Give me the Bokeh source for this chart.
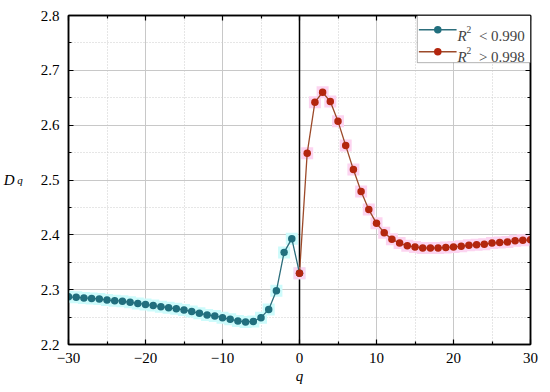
from bokeh.plotting import figure
from bokeh.models import Range1d, Span, Label, BoxAnnotation, FixedTicker, LinearAxis
from bokeh.embed import file_html
from bokeh.resources import INLINE

# ---- data ----
q_neg = list(range(-30, 1))
dq_neg = [2.287, 2.286, 2.285, 2.284, 2.283, 2.281, 2.280, 2.279, 2.277, 2.275,
          2.273, 2.271, 2.269, 2.267, 2.265, 2.263, 2.260, 2.257, 2.254, 2.252,
          2.249, 2.246, 2.243, 2.241, 2.242, 2.249, 2.264, 2.298, 2.368, 2.393,
          2.330]
q_pos = list(range(0, 31))
dq_pos = [2.330, 2.549, 2.642, 2.660, 2.643, 2.607, 2.563, 2.519, 2.479, 2.446,
          2.421, 2.404, 2.392, 2.385, 2.380, 2.378, 2.376, 2.376, 2.376, 2.377,
          2.378, 2.379, 2.381, 2.382, 2.383, 2.385, 2.386, 2.387, 2.389, 2.390,
          2.391]

x_ticks = [-30, -20, -10, 0, 10, 20, 30]
x_minor = [-25, -15, -5, 5, 15, 25]
x_tick_labels = ["\u221230", "\u221220", "\u221210", "0", "10", "20", "30"]
y_ticks = [2.2, 2.3, 2.4, 2.5, 2.6, 2.7, 2.8]
y_minor = [2.25, 2.35, 2.45, 2.55, 2.65, 2.75]
y_tick_labels = ["2.2", "2.3", "2.4", "2.5", "2.6", "2.7", "2.8"]
legend_labels = ["< 0.990", "> 0.998"]

FONT = "Liberation Serif"
BLUE_LINE = "#2d6e7c"
BLUE_MK = "#216f7e"
RED_LINE = "#9c4a2a"
RED_MK = "#b3260e"

p = figure(width=542, height=392, output_backend="svg", toolbar_location=None,
           x_range=Range1d(-30, 30), y_range=Range1d(2.2, 2.8),
           min_border_left=68, min_border_right=12, min_border_top=15, min_border_bottom=48)
p.background_fill_color = "white"
p.outline_line_color = "black"
p.outline_line_width = 1.5

xt = FixedTicker(ticks=x_ticks, minor_ticks=x_minor)
yt = FixedTicker(ticks=y_ticks, minor_ticks=y_minor)
p.xaxis.ticker = xt
p.yaxis.ticker = yt
p.xaxis.major_label_overrides = {v: s for v, s in zip(x_ticks, x_tick_labels)}
p.yaxis.major_label_overrides = {v: s for v, s in zip(y_ticks, y_tick_labels)}

for ax in [p.xaxis[0], p.yaxis[0]]:
    ax.axis_line_width = 1.5
    ax.major_tick_in = 5
    ax.major_tick_out = 0
    ax.minor_tick_in = 3
    ax.minor_tick_out = 0
    ax.major_tick_line_width = 1.2
    ax.minor_tick_line_width = 1.2
    ax.major_label_text_font = FONT
    ax.major_label_text_font_size = "15px"
    ax.major_label_text_color = "black"
    ax.axis_label_text_font = FONT
    ax.axis_label_text_font_style = "italic"
    ax.axis_label_text_color = "black"
p.yaxis.major_label_standoff = 9
p.xaxis.major_label_standoff = 8

# x axis title
p.xaxis.axis_label = "q"
p.xaxis.axis_label_text_font_size = "15px"
p.xaxis.axis_label_standoff = 2

# y axis title: "q" subscript on the main axis, "D" on an outer axis
p.yaxis.axis_label = "q"
p.yaxis.axis_label_text_font_size = "11px"
p.yaxis.axis_label_orientation = "horizontal"
p.yaxis.axis_label_text_baseline = "top"
p.yaxis.axis_label_standoff = 15

outer = LinearAxis(axis_label="D", axis_label_orientation="horizontal",
                   axis_label_text_font=FONT, axis_label_text_font_style="italic",
                   axis_label_text_font_size="15px", axis_label_text_color="black",
                   axis_label_standoff=0, axis_line_color=None,
                   major_tick_line_color=None, minor_tick_line_color=None,
                   major_label_overrides={v: "" for v in y_ticks},
                   major_label_standoff=0, major_tick_in=0, major_tick_out=0,
                   minor_tick_in=0, minor_tick_out=0, ticker=yt)
p.add_layout(outer, "left")

for loc, tk, ticks in [("above", xt, x_ticks), ("right", yt, y_ticks)]:
    ax = LinearAxis(ticker=tk, major_label_overrides={v: "" for v in ticks},
                    major_label_standoff=0,
                    axis_line_width=1.5, major_tick_in=5, major_tick_out=0,
                    minor_tick_in=3, minor_tick_out=0,
                    major_tick_line_width=1.2, minor_tick_line_width=1.2)
    p.add_layout(ax, loc)

for g in [p.xgrid[0], p.ygrid[0]]:
    g.grid_line_color = "#c8c8c8"
    g.grid_line_width = 1
    g.minor_grid_line_color = "#cccccc"
    g.minor_grid_line_dash = "1 2"

p.xgrid.ticker = xt
p.ygrid.ticker = yt

# halos
p.scatter(q_neg, dq_neg, marker="square", size=12, fill_color="#cdfbfb", line_color=None)
p.scatter(q_pos, dq_pos, marker="square", size=12, fill_color="#fcd4f0", line_color=None)

zero = Span(location=0, dimension="height", line_color="black", line_width=1.5, level="underlay")
p.add_layout(zero)

p.line(q_neg, dq_neg, line_color=BLUE_LINE, line_width=1.3)
p.scatter(q_neg, dq_neg, size=7.5, fill_color=BLUE_MK, line_color=None)
p.line(q_pos, dq_pos, line_color=RED_LINE, line_width=1.3)
p.scatter(q_pos, dq_pos, size=7.5, fill_color=RED_MK, line_color=None)

# legend
box = BoxAnnotation(left=15.3, right=30, bottom=2.714, top=2.8, fill_color="white",
                    fill_alpha=1, line_color="black", line_width=1, level="annotation")
p.add_layout(box)
rows = [(2.774, 2.7635, 2.7745, BLUE_LINE, BLUE_MK),
        (2.734, 2.7252, 2.7355, RED_LINE, RED_MK)]
for (yr, yb, ys, lc, mc), lab in zip(rows, legend_labels):
    r1 = p.line([15.5, 20.4], [yr, yr], line_color=lc, line_width=1.5)
    r1.level = "overlay"
    r2 = p.scatter([17.96], [yr], size=7.5, fill_color=mc, line_color=None)
    r2.level = "overlay"
    p.add_layout(Label(x=20.52, y=yb, text="R", text_font=FONT, text_font_style="italic",
                       text_font_size="15px", text_baseline="alphabetic", level="overlay"))
    p.add_layout(Label(x=21.7, y=ys, text="2", text_font=FONT,
                       text_font_size="9.5px", text_baseline="alphabetic", level="overlay"))
    p.add_layout(Label(x=23.3, y=yb, text=lab, text_font=FONT,
                       text_font_size="15px", text_baseline="alphabetic", level="overlay"))

open("out.html", "w").write(file_html(p, INLINE))
